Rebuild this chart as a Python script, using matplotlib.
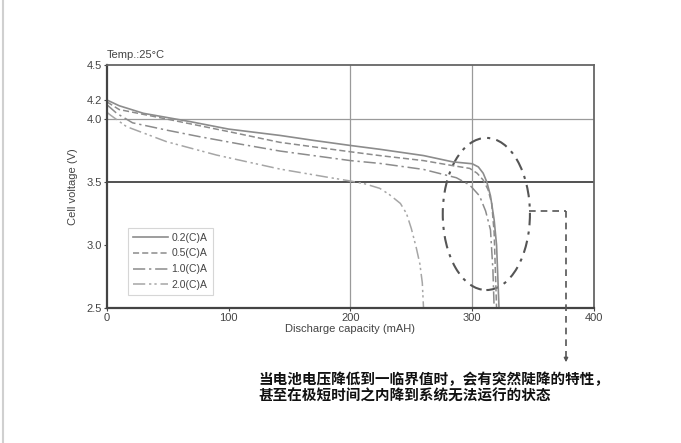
import numpy as np
import matplotlib.pyplot as plt
from matplotlib.patches import Ellipse
from matplotlib.lines import Line2D

plt.rcParams['font.family'] = ['Liberation Sans', 'DejaVu Sans']

# -------------------------------
# Data
# -------------------------------
cap_02 = [0, 10, 30, 68, 100, 142, 170, 200, 224, 260, 284, 300, 305, 309, 312, 315, 318, 320, 321, 322]
volt_02 = [4.20, 4.14, 4.06, 3.98, 3.92, 3.87, 3.83, 3.79, 3.76, 3.71, 3.66, 3.645, 3.62, 3.57, 3.50, 3.39, 3.20, 3.00, 2.75, 2.50]

cap_05 = [0, 10, 49, 100, 142, 200, 224, 260, 284, 298, 304, 309, 313, 316, 318, 319, 320]
volt_05 = [4.18, 4.10, 4.00, 3.90, 3.815, 3.74, 3.71, 3.67, 3.63, 3.608, 3.57, 3.516, 3.44, 3.33, 3.10, 2.80, 2.50]

cap_10 = [0, 8, 21, 50, 76, 110, 142, 200, 224, 260, 287, 298, 306, 311, 315, 317, 318]
volt_10 = [4.15, 4.06, 3.97, 3.91, 3.86, 3.80, 3.746, 3.67, 3.648, 3.60, 3.534, 3.476, 3.39, 3.27, 3.12, 2.80, 2.50]

cap_20 = [0, 3, 16, 49, 90, 142, 180, 200, 212, 224, 232, 241, 246, 250, 254, 257, 259, 260]
volt_20 = [4.07, 4.04, 3.94, 3.82, 3.714, 3.603, 3.54, 3.508, 3.485, 3.45, 3.40, 3.33, 3.25, 3.13, 2.98, 2.85, 2.70, 2.50]

labels = ['0.2(C)A', '0.5(C)A', '1.0(C)A', '2.0(C)A']
x_ticks = [0, 100, 200, 300, 400]
y_ticks = [2.5, 3.0, 3.5, 4.0, 4.2, 4.5]

# the scanned voltage axis is not quite linear near the top
scale_v = [2.5, 3.5, 4.0, 4.2, 4.5]
scale_p = [0, 126, 189, 208, 243]

note_1 = '当电池电压降低到一临界值时，会有突然陡降的特性，'
note_2 = '甚至在极短时间之内降到系统无法运行的状态'

# -------------------------------
# Plot
# -------------------------------
fig = plt.figure(figsize=(6.81, 4.43), dpi=100)
ax = fig.add_axes([0.1571, 0.3047, 0.7151, 0.5485])

ax.set_yscale('function', functions=(lambda v: np.interp(v, scale_v, scale_p),
                                     lambda p: np.interp(p, scale_p, scale_v)))

line_col = '#8c8c8c'
ax.plot(cap_02, volt_02, color=line_col, lw=1.2, ls='-', label=labels[0])
ax.plot(cap_05, volt_05, color=line_col, lw=1.1, ls=(0, (4, 2)), label=labels[1])
ax.plot(cap_10, volt_10, color=line_col, lw=1.1, ls=(0, (8, 2.5, 1.5, 2.5)), label=labels[2])
ax.plot(cap_20, volt_20, color='#a6a6a6', lw=1.1, ls=(0, (8, 2.5, 1.5, 2, 1.5, 2.5)), label=labels[3])

# reference lines
ax.axhline(4.0, color='#9a9a9a', lw=0.9, zorder=0)
ax.axhline(3.5, color='#333333', lw=1.2, zorder=0)
for xv in [200, 300]:
    ax.axvline(xv, color='#9a9a9a', lw=0.9, zorder=0)

ax.set_xlim(0, 400)
ax.set_ylim(2.5, 4.5)
ax.set_xticks(x_ticks)
ax.set_yticks(y_ticks)
ax.set_yticklabels([f'{v:.1f}' for v in y_ticks])
ax.tick_params(axis='both', length=2, width=0.8, color='#444444',
               labelsize=8, labelcolor='#444444', pad=1.5)

for side in ['left', 'bottom']:
    ax.spines[side].set_color('#444444')
    ax.spines[side].set_linewidth(1.6)
for side in ['top', 'right']:
    ax.spines[side].set_color('#666666')
    ax.spines[side].set_linewidth(1.3)

ax.set_xlabel('Discharge capacity (mAH)', fontsize=8, color='#444444', labelpad=1)
ax.set_ylabel('Cell voltage (V)', fontsize=8, color='#444444', labelpad=6)
ax.text(0.0, 1.02, 'Temp.:25°C', transform=ax.transAxes, fontsize=8,
        color='#444444', ha='left', va='bottom')

leg = ax.legend(loc='lower left', bbox_to_anchor=(0.043, 0.053), borderaxespad=0,
                fontsize=7.5, frameon=True, fancybox=False, handlelength=3.3,
                handletextpad=0.4, labelspacing=0.55, borderpad=0.5)
leg.get_frame().set_edgecolor('#cccccc')
leg.get_frame().set_linewidth(0.8)
for t in leg.get_texts():
    t.set_color('#444444')

# ellipse marking the sudden drop
ell = Ellipse((0.779, 0.387), 0.179, 0.626, transform=ax.transAxes, fill=False,
              edgecolor='#555555', lw=1.5, ls=(0, (6, 3, 1.5, 3)), clip_on=False)
ax.add_patch(ell)

# dashed leader to the note
W, H = 681, 443
fig.add_artist(Line2D([529 / W, 566 / W], [1 - 211 / H, 1 - 211 / H],
                      transform=fig.transFigure, color='#555555', lw=1.2, ls=(0, (4, 3))))
fig.add_artist(Line2D([566 / W, 566 / W], [1 - 211 / H, 1 - 360 / H],
                      transform=fig.transFigure, color='#555555', lw=1.2, ls=(0, (4, 3))))
ax.annotate('', xy=(566 / W, 1 - 365 / H), xytext=(566 / W, 1 - 356 / H),
            xycoords='figure fraction', textcoords='figure fraction',
            arrowprops=dict(arrowstyle='-|>', color='#555555', lw=1.0,
                            mutation_scale=6))

cjk = ['Noto Sans CJK SC', 'DejaVu Sans']
fig.text(258 / W, 1 - 379 / H, note_1, family=cjk, fontsize=10.5, fontweight='bold',
         ha='left', va='center', color='#111111')
fig.text(258 / W, 1 - 396 / H, note_2, family=cjk, fontsize=10.5, fontweight='bold',
         ha='left', va='center', color='#111111')

# faint page edge on the left
fig.add_artist(Line2D([3 / W, 3 / W], [0, 1], transform=fig.transFigure,
                      color='#d0d0d0', lw=1.5))

plt.savefig('out.png', dpi=100)
